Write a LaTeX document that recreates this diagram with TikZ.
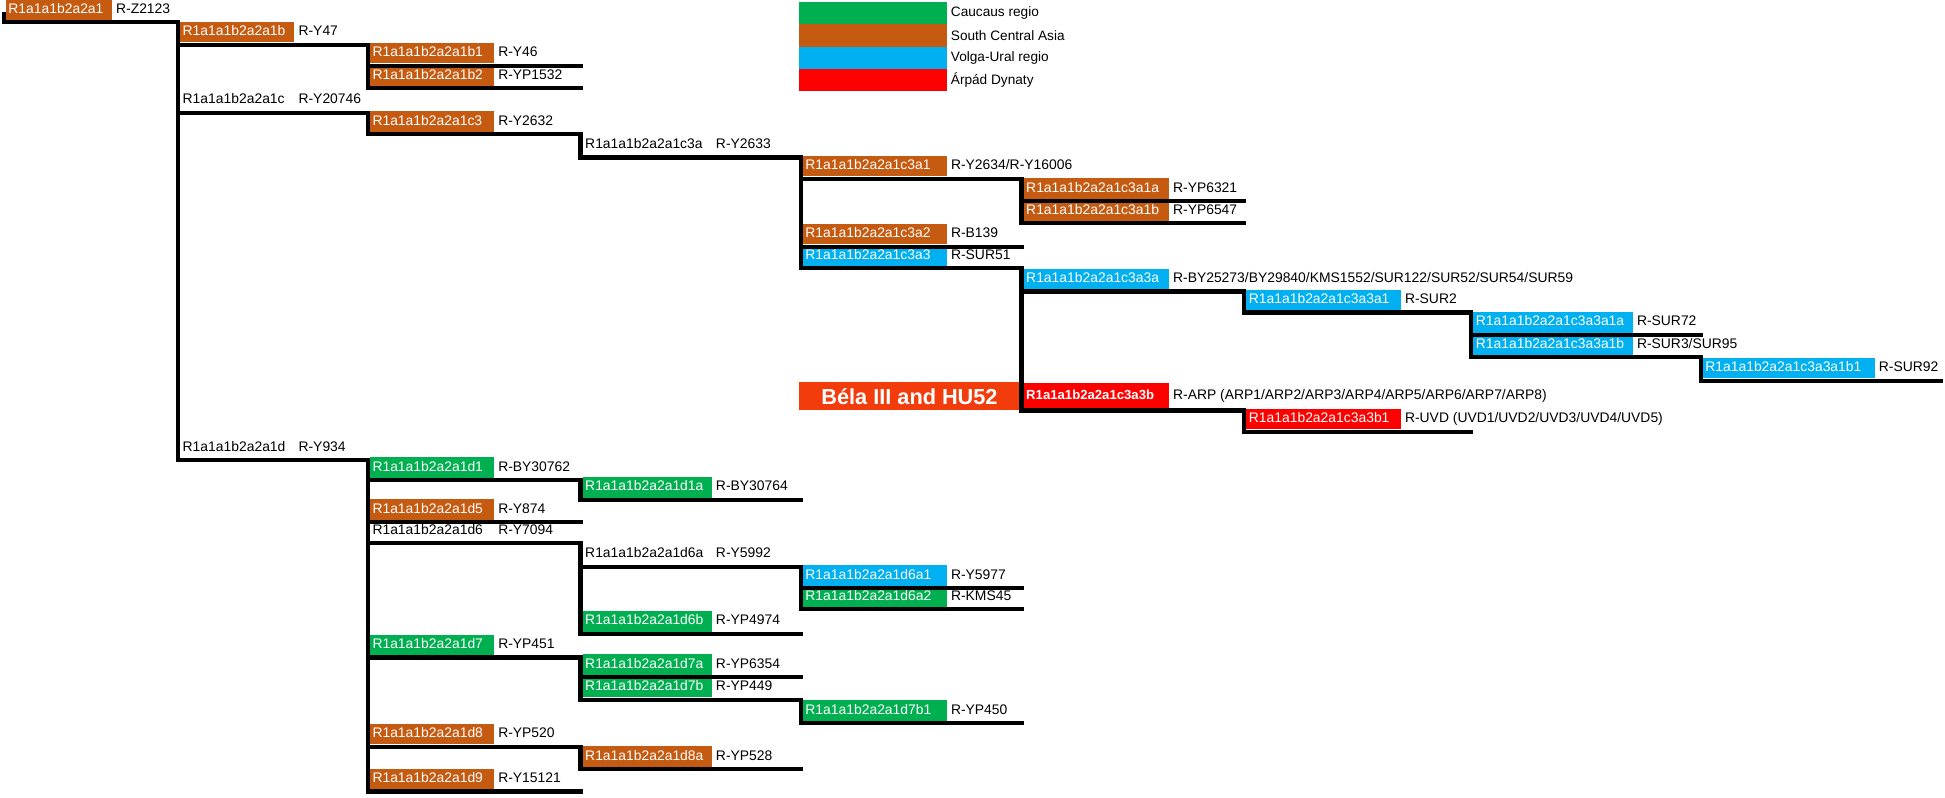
\documentclass[tikz,border=0pt]{standalone}
\usepackage{fontspec}
\setmainfont{Liberation Sans}
\definecolor{csca}{RGB}{197,90,17}
\definecolor{ccau}{RGB}{0,176,80}
\definecolor{cvur}{RGB}{0,176,240}
\definecolor{carp}{RGB}{255,0,0}
\definecolor{cbela}{RGB}{243,60,12}
\tikzset{
  box/.style={anchor=south west, inner xsep=2pt, inner ysep=0pt, minimum height=16.5pt,
    text width=#1pt, align=left, font=\fontsize{11.2}{13}\selectfont, text height=8.1pt, text depth=2.2pt},
  fsca/.style={fill=csca, text=white},
  fcau/.style={fill=ccau, text=white},
  fvur/.style={fill=cvur, text=white},
  farp/.style={fill=carp, text=white},
  txt/.style={text=black},
  boldbox/.style={minimum height=20pt, font=\bfseries\fontsize{10.6}{12}\selectfont},
  mk/.style={anchor=west, inner sep=0pt, font=\fontsize{11.2}{13}\selectfont, text height=8.1pt, text depth=2.2pt},
  ln/.style={line width=3.4pt, line cap=rect},
  leg/.style={anchor=north west, inner sep=0pt, minimum width=119pt, minimum height=18pt},
  legt/.style={anchor=west, inner sep=0pt, font=\fontsize{11}{13}\selectfont}
}
% name, level x, line y, text width, style, label, marker, end x
\newcommand\tn[8]{%
  \node[box=#4,#5] (#1) at ({#2+1.6},{#3-1.7}) {#6};
  \node[mk] (#1m) at ([xshift=3pt]#1.east) {#7};
  \coordinate (#1e) at (#8,#3);}
\begin{document}
\begin{tikzpicture}[x=1pt,y=-1pt]
\useasboundingbox (0,0) rectangle (1568,643);
% legend
\node[leg, fill=ccau] (lg1) at (644,1.5) {};
\node[leg, fill=csca] (lg2) at (644,19.5) {};
\node[leg, fill=cvur] (lg3) at (644,37.5) {};
\node[leg, fill=carp] (lg4) at (644,55.5) {};
\node[legt] (lg1t) at ([xshift=3pt]lg1.east) {Caucaus regio};
\node[legt] (lg2t) at ([xshift=3pt]lg2.east) {South Central Asia};
\node[legt] (lg3t) at ([xshift=3pt]lg3.east) {Volga-Ural regio};
\node[legt] (lg4t) at ([xshift=3pt]lg4.east) {Árpád Dynaty};
% tree nodes
\tn{a1}{3}{18}{81.4}{fsca}{R1a1a1b2a2a1}{R-Z2123}{143.5}
\tn{b}{143.5}{36}{88}{fsca}{R1a1a1b2a2a1b}{R-Y47}{296.5}
\tn{b1}{296.5}{53}{96}{fsca}{R1a1a1b2a2a1b1}{R-Y46}{468}
\tn{b2}{296.5}{71}{96}{fsca}{R1a1a1b2a2a1b2}{R-YP1532}{468}
\tn{c}{143.5}{91}{88}{txt}{R1a1a1b2a2a1c}{R-Y20746}{296.5}
\tn{c3}{296.5}{108}{96}{fsca}{R1a1a1b2a2a1c3}{R-Y2632}{468}
\tn{c3a}{468}{127}{100}{txt}{R1a1a1b2a2a1c3a}{R-Y2633}{645.5}
\tn{c3a1}{645.5}{144}{112}{fsca}{R1a1a1b2a2a1c3a1}{R-Y2634/R-Y16006}{823.5}
\tn{c3a1a}{823.5}{162}{113}{fsca}{R1a1a1b2a2a1c3a1a}{R-YP6321}{1003}
\tn{c3a1b}{823.5}{180}{113}{fsca}{R1a1a1b2a2a1c3a1b}{R-YP6547}{1003}
\tn{c3a2}{645.5}{199}{112}{fsca}{R1a1a1b2a2a1c3a2}{R-B139}{823.5}
\tn{c3a3}{645.5}{216}{112}{fvur}{R1a1a1b2a2a1c3a3}{R-SUR51}{823.5}
\tn{c3a3a}{823.5}{235}{113}{fvur}{R1a1a1b2a2a1c3a3a}{R-BY25273/BY29840/KMS1552/SUR122/SUR52/SUR54/SUR59}{1003}
\tn{c3a3a1}{1003}{252}{120.5}{fvur}{R1a1a1b2a2a1c3a3a1}{R-SUR2}{1186}
\tn{c3a3a1a}{1186}{270}{124.5}{fvur}{R1a1a1b2a2a1c3a3a1a}{R-SUR72}{1371}
\tn{c3a3a1b}{1186}{288}{124.5}{fvur}{R1a1a1b2a2a1c3a3a1b}{R-SUR3/SUR95}{1371}
\tn{c3a3a1b1}{1371}{307}{134.5}{fvur}{R1a1a1b2a2a1c3a3a1b1}{R-SUR92}{1565}
\tn{c3a3b}{823.5}{331}{113}{farp,boldbox}{R1a1a1b2a2a1c3a3b}{R-ARP (ARP1/ARP2/ARP3/ARP4/ARP5/ARP6/ARP7/ARP8)}{1003}
\tn{c3a3b1}{1003}{348}{120.5}{farp}{R1a1a1b2a2a1c3a3b1}{R-UVD (UVD1/UVD2/UVD3/UVD4/UVD5)}{1186}
\tn{d}{143.5}{371}{88}{txt}{R1a1a1b2a2a1d}{R-Y934}{296.5}
\tn{d1}{296.5}{387}{96}{fcau}{R1a1a1b2a2a1d1}{R-BY30762}{468}
\tn{d1a}{468}{403}{100}{fcau}{R1a1a1b2a2a1d1a}{R-BY30764}{645.5}
\tn{d5}{296.5}{421}{96}{fsca}{R1a1a1b2a2a1d5}{R-Y874}{468}
\tn{d6}{296.5}{438}{96}{txt}{R1a1a1b2a2a1d6}{R-Y7094}{468}
\tn{d6a}{468}{457}{100}{txt}{R1a1a1b2a2a1d6a}{R-Y5992}{645.5}
\tn{d6a1}{645.5}{474}{112}{fvur}{R1a1a1b2a2a1d6a1}{R-Y5977}{823.5}
\tn{d6a2}{645.5}{491}{112}{fcau}{R1a1a1b2a2a1d6a2}{R-KMS45}{823.5}
\tn{d6b}{468}{511}{100}{fcau}{R1a1a1b2a2a1d6b}{R-YP4974}{645.5}
\tn{d7}{296.5}{530}{96}{fcau}{R1a1a1b2a2a1d7}{R-YP451}{468}
\tn{d7a}{468}{546}{100}{fcau}{R1a1a1b2a2a1d7a}{R-YP6354}{645.5}
\tn{d7b}{468}{564}{100}{fcau}{R1a1a1b2a2a1d7b}{R-YP449}{645.5}
\tn{d7b1}{645.5}{583}{112}{fcau}{R1a1a1b2a2a1d7b1}{R-YP450}{823.5}
\tn{d8}{296.5}{602}{96}{fsca}{R1a1a1b2a2a1d8}{R-YP520}{468}
\tn{d8a}{468}{620}{100}{fsca}{R1a1a1b2a2a1d8a}{R-YP528}{645.5}
\tn{d9}{296.5}{638}{96}{fsca}{R1a1a1b2a2a1d9}{R-Y15121}{468}
% Bela label
\node[fill=cbela, text=white, font=\bfseries\fontsize{17.5}{20}\selectfont, minimum width=178pt,
  minimum height=22.5pt, inner sep=0pt, anchor=south west] (bela) at (644,331) {Béla III and HU52};
% connectors
\coordinate (top) at (3,11);
\draw[ln] (top) |- (a1e);
\foreach \p/\c in {a1/b,a1/c,a1/d,b/b1,b/b2,c/c3,c3/c3a,c3a/c3a1,c3a/c3a2,c3a/c3a3,
  c3a1/c3a1a,c3a1/c3a1b,c3a3/c3a3a,c3a3/c3a3b,c3a3a/c3a3a1,c3a3a1/c3a3a1a,c3a3a1/c3a3a1b,
  c3a3a1b/c3a3a1b1,c3a3b/c3a3b1,d/d1,d/d5,d/d6,d/d7,d/d8,d/d9,d1/d1a,d6/d6a,d6/d6b,
  d6a/d6a1,d6a/d6a2,d7/d7a,d7/d7b,d7b/d7b1,d8/d8a}
  \draw[ln] (\p e) |- (\c e);
\end{tikzpicture}
\end{document}
